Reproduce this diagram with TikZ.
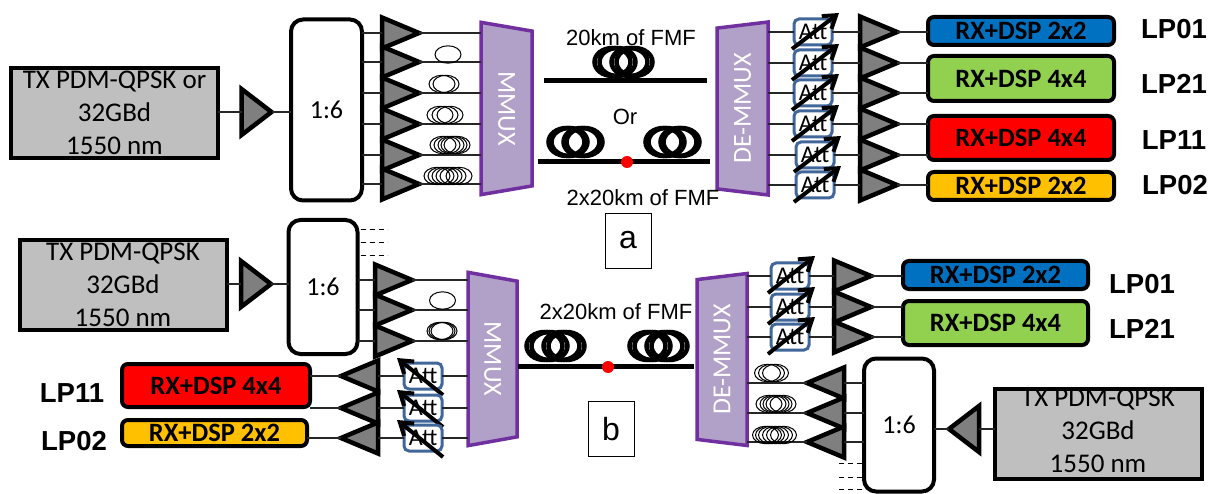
\documentclass[tikz,border=0pt]{standalone}
\usepackage{fontspec}
\setmainfont{Carlito}
\newfontfamily\labelfont{Liberation Sans}
\usetikzlibrary{shapes.geometric,arrows.meta}
\definecolor{cgraybox}{RGB}{191,191,191}
\definecolor{camp}{RGB}{127,127,127}
\definecolor{cmuxfill}{RGB}{177,160,199}
\definecolor{cmuxline}{RGB}{112,48,160}
\definecolor{cattline}{RGB}{65,102,154}
\definecolor{cblue}{RGB}{0,112,192}
\definecolor{cgreen}{RGB}{146,208,80}
\definecolor{cred}{RGB}{255,0,0}
\definecolor{camber}{RGB}{255,192,0}
\tikzset{
  opticsetup/.style={x=1pt,y=-1pt,outer sep=0pt,inner sep=0pt},
  txtext/.style={align=center,font=\fontsize{27}{33}\selectfont},
  txbox/.style={txtext,draw,fill=cgraybox,line width=4pt,minimum width=207pt,minimum height=90pt},
  splitbox/.style={draw,fill=white,line width=4pt,rounded corners=12pt,font=\fontsize{26}{30}\selectfont},
  rxbox/.style={draw,line width=4pt,rounded corners=6pt,font=\fontsize{26.5}{28}\selectfont\bfseries},
  lplabel/.style={font=\labelfont\fontsize{27.5}{30}\selectfont\bfseries},
  kmlabel/.style={font=\labelfont\fontsize{22}{26}\selectfont},
  tagbox/.style={draw,fill=white,line width=0.8pt,minimum width=46pt,minimum height=55pt,font=\labelfont\fontsize{32}{36}\selectfont},
  amp/.style={draw,fill=camp,line width=4.5pt,isosceles triangle,isosceles triangle stretches,anchor=apex,minimum height=37pt,minimum width=31pt},
  ampbig/.style={amp,minimum height=30pt,minimum width=46pt},
  mux/.style={draw=cmuxline,fill=cmuxfill,line width=3.5pt,trapezium,trapezium stretches,trapezium angle=76,minimum width=173pt,minimum height=51pt,text=white,font=\fontsize{26}{30}\selectfont},
  attbox/.style={draw=cattline,fill=white,line width=3pt,rounded corners=5pt,minimum width=38pt,minimum height=26pt,font=\fontsize{24}{26}\selectfont},
  attarrow/.style={-{Straight Barb[length=12pt,width=16pt,line width=4pt]},line width=4pt,black},
  wire/.style={line width=1.3pt,black!85},
  fibre/.style={line width=5pt},
  coilthin/.style={line width=1pt},
  coilthick/.style={line width=4.5pt},
  stub/.style={line width=0.9pt,dash pattern=on 5.5pt off 3.5pt}
}
\newcommand{\thincoil}[3]{\foreach \d in {#3} \draw[coilthin] ({#1+\d},#2) ellipse (13 and 8.7);}
\newcommand{\thickcoil}[4]{\foreach \d in {#4} \draw[coilthick] ({#1+\d},#2) ellipse (#3 and 14);}
\begin{document}
\begin{tikzpicture}[opticsetup]
  \useasboundingbox (0,0) rectangle (1220,494);
  % a: six mode link
  \node[txbox] (txa) at (114.5,113) {TX PDM-QPSK or\\32GBd\\1550 nm};
  \node[ampbig] (ampa) at (271.5,112) {};
  \node[splitbox,minimum width=71pt,minimum height=181pt] (splita) at (326.5,110) {1:6};
  \draw[wire] (txa.east |- ampa.lower side) -- (ampa.lower side);
  \draw[wire] (ampa.apex) -- (ampa.apex -| splita.west);
  \node[mux,rotate=-90] (muxa) at (506.5,108.5) {MMUX};
  \node[mux,rotate=90] (demuxa) at (742.5,108.5) {DE-MMUX};
  \foreach \i/\y in {1/33,2/62,3/93,4/124,5/155,6/184} {
    \node[amp] (ampa\i) at (419,\y) {};
    \draw[wire] (ampa\i.lower side) -- (ampa\i.lower side -| splita.east);
    \draw[wire] (ampa\i.apex) -- (ampa\i.apex -| muxa.south);
  }
  \thincoil{448}{54.5}{0}
  \thincoil{444}{84}{-2,2}
  \thincoil{445}{115}{-5,0,5}
  \thincoil{450}{145}{-7,-3,1,4,7}
  \thincoil{448}{176}{-11,-7,-3,1,5,11}
  \foreach \i/\x/\y in {1/813/32,2/813/63,3/813/93,4/813/124,5/815/155,6/815/185} {
    \node[attbox] (atta\i) at (\x,\y) {Att};
    \node[amp] (ampr\i) at (897,\y) {};
    \draw[wire] (atta\i.west) -- (atta\i.west -| demuxa.south);
    \draw[wire] (atta\i.east) -- (ampr\i.lower side);
    \draw[attarrow] ([shift={(-21,17)}]atta\i.center) -- ([shift={(26,-19)}]atta\i.center);
  }
  \node[rxbox,fill=cblue,minimum width=186pt,minimum height=28pt] (rxa1) at (1021,31) {RX+DSP 2x2};
  \node[rxbox,fill=cgreen,minimum width=186pt,minimum height=45pt] (rxa2) at (1021,78.5) {RX+DSP 4x4};
  \node[rxbox,fill=cred,minimum width=186pt,minimum height=44pt] (rxa3) at (1021,138) {RX+DSP 4x4};
  \node[rxbox,fill=camber,minimum width=186pt,minimum height=28pt] (rxa4) at (1021,186) {RX+DSP 2x2};
  \foreach \i/\j in {1/1,2/2,3/2,4/3,5/3,6/4}
    \draw[wire] (ampr\i.apex) -- (ampr\i.apex -| rxa\j.west);
  \node[lplabel] (lpa1) at (1174,29) {LP01};
  \node[lplabel] (lpa2) at (1174,84) {LP21};
  \node[lplabel] (lpa3) at (1174,140) {LP11};
  \node[lplabel] (lpa4) at (1175,185) {LP02};
  \coordinate (fibaw) at (544,81);
  \coordinate (fibae) at (707,81);
  \draw[fibre] (fibaw) -- (fibae);
  \thickcoil{623.5}{62}{18}{-11,-6,6,11}
  \coordinate (fibbw) at (538,162);
  \coordinate (fibbe) at (710,162);
  \draw[fibre] (fibbw) -- (fibbe);
  \thickcoil{575.5}{142}{18}{-9,-6,6,9}
  \thickcoil{672.5}{142}{18}{-9,-6,6,9}
  \fill[cred] (627,162) circle (6);
  \node[kmlabel] (kma1) at (631,38) {20km of FMF};
  \node[kmlabel] (ora) at (625,117) {Or};
  \node[kmlabel] (kma2) at (643,198) {2x20km of FMF};
  \node[tagbox] (taga) at (628,240.5) {a};
  % b: two way link
  \node[txbox] (txb) at (123,285) {TX PDM-QPSK\\32GBd\\1550 nm};
  \node[ampbig] (ampb) at (271,284) {};
  \node[splitbox,minimum width=69pt,minimum height=134pt] (splitb) at (323,287) {1:6};
  \draw[wire] (txb.east |- ampb.lower side) -- (ampb.lower side);
  \draw[wire] (ampb.apex) -- (ampb.apex -| splitb.west);
  \foreach \y/\z in {229/1,242/2,255/3} {
    \coordinate (stuba\z) at (splitb.east |- 0,\y);
    \draw[stub] ([xshift=3pt]stuba\z) -- ([xshift=30pt]stuba\z);
  }
  \node[mux,rotate=-90,minimum width=174pt,minimum height=49pt] (muxb) at (492.5,359) {MMUX};
  \node[mux,rotate=90,minimum width=172pt,minimum height=50pt] (demuxb) at (722,359.5) {DE-MMUX};
  \foreach \i/\y in {1/280,2/310,3/341} {
    \node[amp] (ampb\i) at (412,\y) {};
    \draw[wire] (ampb\i.lower side) -- (ampb\i.lower side -| splitb.east);
    \draw[wire] (ampb\i.apex) -- (ampb\i.apex -| muxb.south);
  }
  \thincoil{442.5}{300.5}{0}
  \thincoil{442}{331}{-2,0,2}
  \foreach \i/\y in {1/376,2/408,3/438} {
    \node[attbox] (attb\i) at (423,\y) {Att};
    \node[amp,shape border rotate=180] (ampl\i) at (341,\y) {};
    \draw[wire] (attb\i.east) -- (attb\i.east -| muxb.south);
    \draw[wire] (attb\i.west) -- (ampl\i.lower side);
    \draw[attarrow] ([shift={(20,19)}]attb\i.center) -- ([shift={(-26,-18)}]attb\i.center);
  }
  \node[rxbox,fill=cred,minimum width=188pt,minimum height=43pt] (rxb3) at (216,385.5) {RX+DSP 4x4};
  \node[rxbox,fill=camber,minimum width=185pt,minimum height=26pt] (rxb4) at (214.5,433) {RX+DSP 2x2};
  \foreach \i/\j in {1/3,2/3,3/4}
    \draw[wire] (ampl\i.apex) -- (ampl\i.apex -| rxb\j.east);
  \node[lplabel] (lpb3) at (72,393) {LP11};
  \node[lplabel] (lpb4) at (74,441) {LP02};
  \coordinate (fibcw) at (518,366);
  \coordinate (fibce) at (694,366);
  \draw[fibre] (fibcw) -- (fibce);
  \thickcoil{555.5}{346}{18}{-11,-6,6,11}
  \thickcoil{658.5}{346}{18}{-11,-6,6,11}
  \fill[cred] (608,367) circle (6);
  \node[kmlabel] (kmb) at (616,312) {2x20km of FMF};
  \node[tagbox] (tagb) at (611,429) {b};
  \foreach \i/\y in {1/276,2/307,3/337} {
    \node[attbox] (attc\i) at (790,\y) {Att};
    \node[amp] (ampc\i) at (871,\y) {};
    \draw[wire] (attc\i.west) -- (attc\i.west -| demuxb.south);
    \draw[wire] (attc\i.east) -- (ampc\i.lower side);
    \draw[attarrow] ([shift={(-22,17)}]attc\i.center) -- ([shift={(25,-20)}]attc\i.center);
  }
  \node[rxbox,fill=cblue,minimum width=185pt,minimum height=28pt] (rxc1) at (995.5,275) {RX+DSP 2x2};
  \node[rxbox,fill=cgreen,minimum width=185pt,minimum height=44pt] (rxc2) at (995.5,323) {RX+DSP 4x4};
  \foreach \i/\j in {1/1,2/2,3/2}
    \draw[wire] (ampc\i.apex) -- (ampc\i.apex -| rxc\j.west);
  \node[lplabel] (lpc1) at (1142,284) {LP01};
  \node[lplabel] (lpc2) at (1142,329) {LP21};
  % counter propagating side
  \node[splitbox,minimum width=70pt,minimum height=133pt] (splitc) at (899,425) {1:6};
  \foreach \i/\y in {1/383,2/413,3/442} {
    \node[amp,shape border rotate=180] (ampd\i) at (807,\y) {};
    \draw[wire] (ampd\i.lower side) -- (ampd\i.lower side -| splitc.west);
    \draw[wire] (ampd\i.apex) -- (ampd\i.apex -| demuxb.south);
  }
  \thincoil{771.5}{373}{-4,0,4}
  \thincoil{776}{404}{-7,-3,0,3,7}
  \thincoil{774.5}{435}{-9,-6,-3,1,5,9}
  \foreach \y/\z in {463/1,477/2,489/3} {
    \coordinate (stubc\z) at (splitc.west |- 0,\y);
    \draw[stub] ([xshift=-2pt]stubc\z) -- ([xshift=-27pt]stubc\z);
  }
  \node[ampbig,shape border rotate=180] (ampe) at (949,429) {};
  \node[txbox] (txc) at (1098,433.5) {};
  \node[txtext] (txctext) at (1098,431) {TX PDM-QPSK\\32GBd\\1550 nm};
  \draw[wire] (ampe.apex) -- (ampe.apex -| splitc.east);
  \draw[wire] (ampe.lower side) -- (ampe.lower side -| txc.west);
\end{tikzpicture}
\end{document}
